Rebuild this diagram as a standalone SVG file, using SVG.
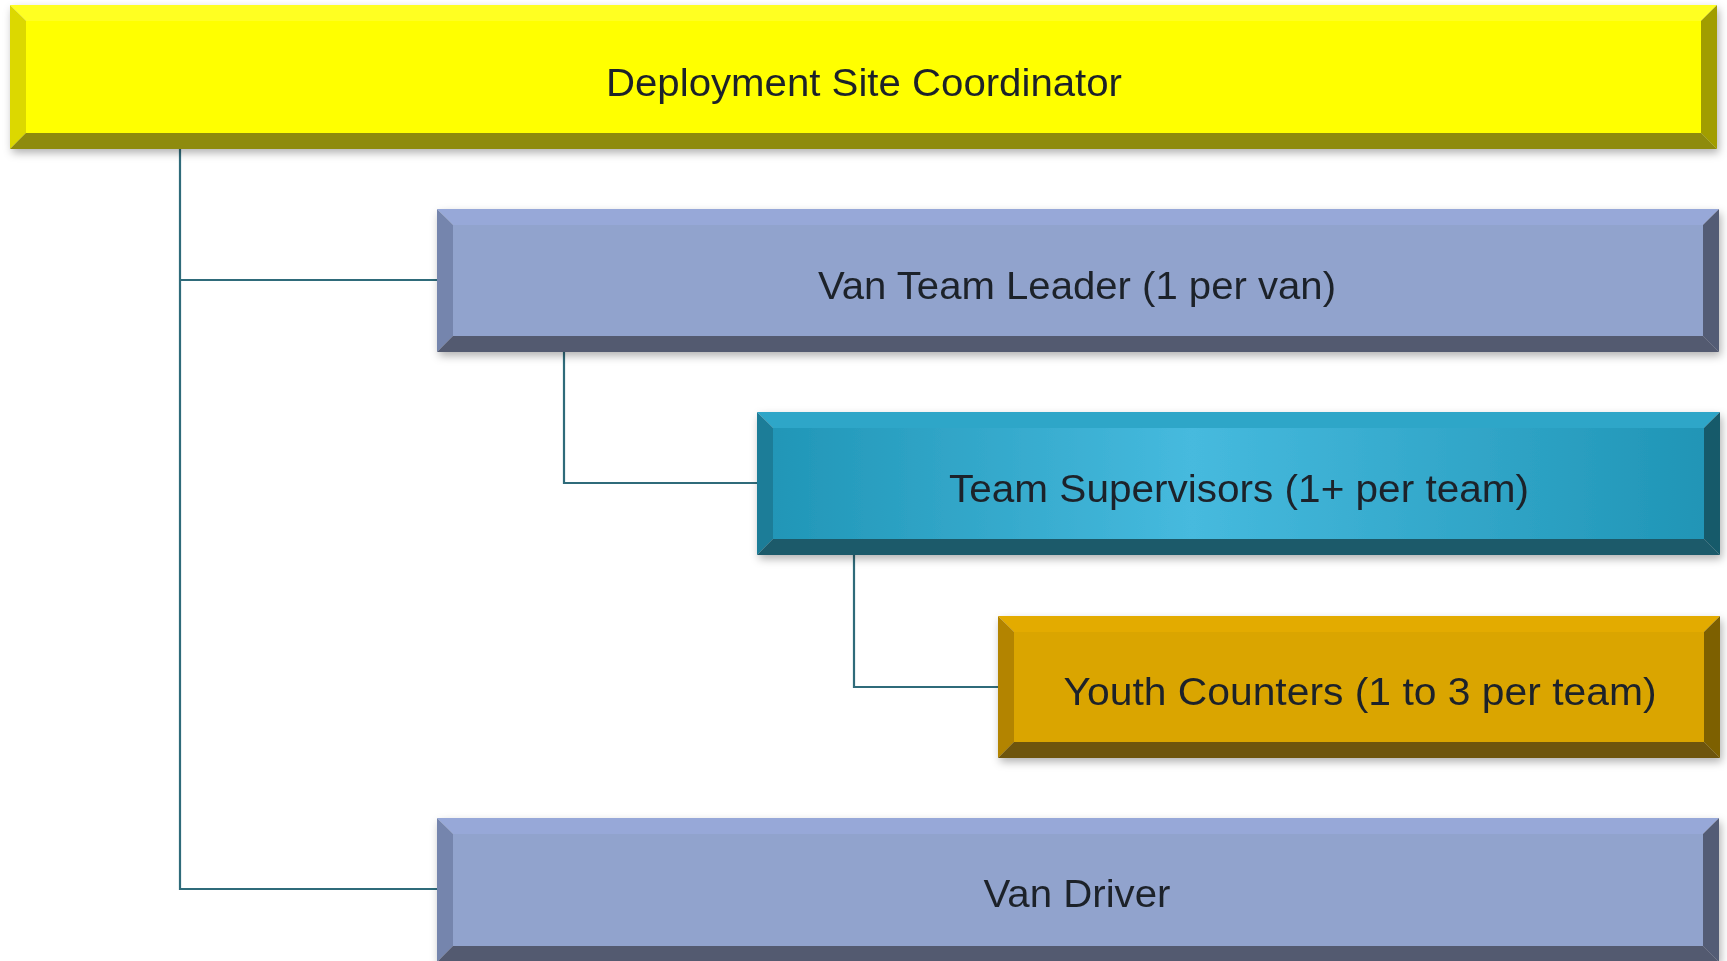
<svg xmlns="http://www.w3.org/2000/svg" width="1727" height="961" viewBox="0 0 1727 961">
<defs>
<filter id="sh" x="-5%" y="-20%" width="110%" height="150%">
<feDropShadow dx="2" dy="4" stdDeviation="4" flood-color="#000" flood-opacity="0.3"/>
</filter>
<linearGradient id="tealg" x1="0" y1="0" x2="1" y2="0">
<stop offset="0" stop-color="#2196b7"/>
<stop offset="0.45" stop-color="#46bade"/>
<stop offset="1" stop-color="#2095b6"/>
</linearGradient>
</defs>
<style>
.lbl{font-family:"Liberation Sans",Arial,sans-serif;font-size:38px;fill:#1f2329;text-anchor:middle}
.con{fill:none;stroke:#2f6b7a;stroke-width:2.2}
</style>
<rect width="1727" height="961" fill="#ffffff"/>
<g id="connectors">
<polyline class="con" points="180,149 180,889 437,889"/>
<line class="con" x1="180" y1="280" x2="437" y2="280"/>
<polyline class="con" points="564,352 564,483 757,483"/>
<polyline class="con" points="854,555 854,687 998,687"/>
</g>
<g id="coordinator" filter="url(#sh)">
<polygon points="10,5 1717,5 1701,21 26,21" fill="#ffff22"/>
<polygon points="10,5 26,21 26,133 10,149" fill="#dcd800"/>
<polygon points="10,149 26,133 1701,133 1717,149" fill="#8e8b0c"/>
<polygon points="1717,5 1717,149 1701,133 1701,21" fill="#a19d00"/>
<rect x="26" y="21" width="1675" height="112" fill="#ffff00"/>
<text class="lbl" x="864" y="96" textLength="516" lengthAdjust="spacingAndGlyphs">Deployment Site Coordinator</text>
</g>
<g id="van-team-leader" filter="url(#sh)">
<polygon points="437,209 1719,209 1703,225 453,225" fill="#97a8d8"/>
<polygon points="437,209 453,225 453,336 437,352" fill="#7585ad"/>
<polygon points="437,352 453,336 1703,336 1719,352" fill="#525a70"/>
<polygon points="1719,209 1719,352 1703,336 1703,225" fill="#525b75"/>
<rect x="453" y="225" width="1250" height="111" fill="#91a3cd"/>
<text class="lbl" x="1077" y="299" textLength="518" lengthAdjust="spacingAndGlyphs">Van Team Leader (1 per van)</text>
</g>
<g id="team-supervisors" filter="url(#sh)">
<polygon points="757,412 1720,412 1704,428 773,428" fill="#2fa6c8"/>
<polygon points="757,412 773,428 773,539 757,555" fill="#1a7d98"/>
<polygon points="757,555 773,539 1704,539 1720,555" fill="#1f5a6a"/>
<polygon points="1720,412 1720,555 1704,539 1704,428" fill="#165a6a"/>
<rect x="773" y="428" width="931" height="111" fill="url(#tealg)"/>
<text class="lbl" x="1239" y="502" textLength="580" lengthAdjust="spacingAndGlyphs">Team Supervisors (1+ per team)</text>
</g>
<g id="youth-counters" filter="url(#sh)">
<polygon points="998,616 1720,616 1704,632 1014,632" fill="#e3ab00"/>
<polygon points="998,616 1014,632 1014,742 998,758" fill="#b38400"/>
<polygon points="998,758 1014,742 1704,742 1720,758" fill="#6e5508"/>
<polygon points="1720,616 1720,758 1704,742 1704,632" fill="#7d6000"/>
<rect x="1014" y="632" width="690" height="110" fill="#daa506"/>
<text class="lbl" x="1360" y="705" textLength="593" lengthAdjust="spacingAndGlyphs">Youth Counters (1 to 3 per team)</text>
</g>
<g id="van-driver" filter="url(#sh)">
<polygon points="437,818 1719,818 1703,834 453,834" fill="#97a8d8"/>
<polygon points="437,818 453,834 453,946 437,962" fill="#7585ad"/>
<polygon points="437,962 453,946 1703,946 1719,962" fill="#525a70"/>
<polygon points="1719,818 1719,962 1703,946 1703,834" fill="#525b75"/>
<rect x="453" y="834" width="1250" height="112" fill="#91a3cd"/>
<text class="lbl" x="1077" y="907" textLength="187" lengthAdjust="spacingAndGlyphs">Van Driver</text>
</g>
</svg>
